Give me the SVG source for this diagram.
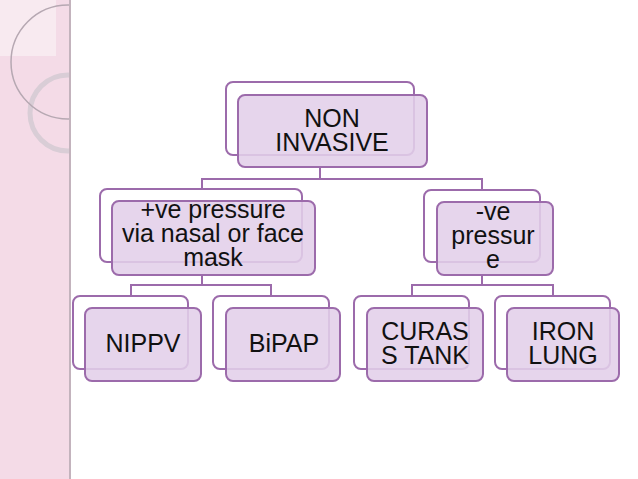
<svg xmlns="http://www.w3.org/2000/svg" width="638" height="479" viewBox="0 0 638 479">
<style>
.bk{fill:#ffffff;stroke:#9c6bab;stroke-width:2}
.fr{fill:#e2cfe9;fill-opacity:0.88;stroke:#9c6bab;stroke-width:2}
.t{font-family:"Liberation Sans",Arial,sans-serif;font-size:25px;fill:#111111;text-anchor:middle}
.c{fill:none;stroke:#9c6bab;stroke-width:2}
</style>
<rect x="0" y="0" width="638" height="479" fill="#ffffff"/>
<g id="panel">
<rect x="0" y="0" width="70" height="479" fill="#f4dbe7"/>
<rect x="0" y="0" width="56" height="56" fill="#f8eaf0"/>
<circle cx="68" cy="113" r="38" fill="none" stroke="#d9cdd6" stroke-width="5"/>
<circle cx="68" cy="62" r="57" fill="none" stroke="#b6a8b2" stroke-width="1.5"/>
<rect x="70" y="0" width="568" height="479" fill="#ffffff"/>
<line x1="70" y1="0" x2="70" y2="479" stroke="#c3b3bd" stroke-width="2"/>
</g>
<g id="connectors">
<path class="c" d="M320 167V179M202 189V179H482V190"/>
<path class="c" d="M202 275V285M131 296V285H271V296"/>
<path class="c" d="M482 275V285M412 296V285H553V296"/>
</g>
<g id="n-root">
<rect class="bk" x="226" y="82" width="188" height="73" rx="7"/>
<rect class="fr" x="238" y="95" width="189" height="72" rx="7"/>
<text class="t" x="332" y="126.5">NON</text>
<text class="t" x="332" y="150.5">INVASIVE</text>
</g>
<g id="n-positive">
<rect class="bk" x="100" y="189" width="202" height="73" rx="7"/>
<rect class="fr" x="112" y="201" width="203" height="74" rx="7"/>
<text class="t" x="213" y="218">+ve pressure</text>
<text class="t" x="213" y="242">via nasal or face</text>
<text class="t" x="213" y="266">mask</text>
</g>
<g id="n-negative">
<rect class="bk" x="424" y="190" width="116" height="72" rx="7"/>
<rect class="fr" x="437" y="202" width="116" height="73" rx="7"/>
<text class="t" x="493" y="220">-ve</text>
<text class="t" x="493" y="244">pressur</text>
<text class="t" x="493" y="268">e</text>
</g>
<g id="n-nippv">
<rect class="bk" x="73" y="296" width="115" height="73" rx="7"/>
<rect class="fr" x="85" y="308" width="116" height="73" rx="7"/>
<text class="t" x="143" y="352">NIPPV</text>
</g>
<g id="n-bipap">
<rect class="bk" x="213" y="296" width="116" height="73" rx="7"/>
<rect class="fr" x="226" y="308" width="114" height="73" rx="7"/>
<text class="t" x="284" y="352">BiPAP</text>
</g>
<g id="n-curass">
<rect class="bk" x="354" y="296" width="115" height="73" rx="7"/>
<rect class="fr" x="367" y="308" width="116" height="73" rx="7"/>
<text class="t" x="425" y="340">CURAS</text>
<text class="t" x="425" y="364">S TANK</text>
</g>
<g id="n-iron">
<rect class="bk" x="495" y="296" width="115" height="73" rx="7"/>
<rect class="fr" x="507" y="308" width="112" height="73" rx="7"/>
<text class="t" x="563" y="340">IRON</text>
<text class="t" x="563" y="364">LUNG</text>
</g>
</svg>
